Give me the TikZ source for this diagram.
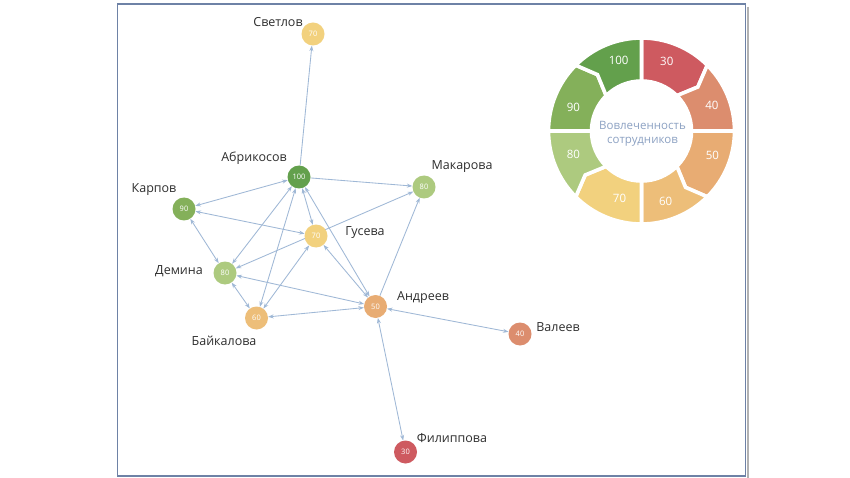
\documentclass[tikz,border=0pt]{standalone}
\usepackage{fontspec}
\setmainfont{Open Sans}
\usetikzlibrary{arrows.meta}
\definecolor{cA}{HTML}{63A04C}
\definecolor{cB}{HTML}{84B05A}
\definecolor{cC}{HTML}{ADCA7F}
\definecolor{cD}{HTML}{F2D17E}
\definecolor{cE}{HTML}{EDBE79}
\definecolor{cF}{HTML}{E8AC73}
\definecolor{cG}{HTML}{DC8D6E}
\definecolor{cH}{HTML}{CE5A60}
\definecolor{edgec}{HTML}{9FB8D6}
\definecolor{framec}{HTML}{6E82A6}
\definecolor{lblc}{HTML}{2E2E2E}
\definecolor{centerc}{HTML}{8DA2C3}
\pgfdeclarelayer{bg}
\pgfsetlayers{bg,main}
\newcommand\segFT[3]{% color, A, B : flat start, tip end
  \fill[#1,draw=white,line width=3.6pt,line join=miter]
    (#2:93) arc[start angle=#2,end angle=#3,radius=93]
    -- ({#3-7}:71.5) -- (#3:50) arc[start angle=#3,end angle=#2,radius=50] -- cycle;}
\newcommand\segNF[3]{% color, A, B : notch start, flat end
  \fill[#1,draw=white,line width=3.6pt,line join=miter]
    (#2:93) arc[start angle=#2,end angle=#3,radius=93]
    -- (#3:50) arc[start angle=#3,end angle=#2,radius=50] -- ({#2-7}:71.5) -- cycle;}
\begin{document}
\begin{tikzpicture}[x=1pt,y=-1pt,
  person/.style={circle,minimum size=23pt,inner sep=0pt,text=white,
    font=\fontsize{7.5}{8}\selectfont},
  lbl/.style={font=\fontsize{12.5}{14}\selectfont,text=lblc,inner sep=0pt},
  conn/.style={draw=edgec,line width=0.85pt},
  >={Stealth[length=5.5pt,width=4pt]},
  dnum/.style={font=\fontsize{11.5}{13}\selectfont,text=white,inner sep=0pt}]
\useasboundingbox (0,0) rectangle (850,478);
\begin{pgfonlayer}{bg}
\fill[white] (0,0) rectangle (850,478);
\end{pgfonlayer}
% frame
\draw[black!30,line width=2pt] (747.5,7) -- (747.5,478);
\draw[framec,line width=1.4pt] (117.5,4) rectangle (745.5,476);

% nodes
\node[person,fill=cD] (svet) at (313,34) {70};
\node[person,fill=cA] (abr) at (299,177) {100};
\node[person,fill=cC] (mak) at (424,187) {80};
\node[person,fill=cB] (karp) at (184,209) {90};
\node[person,fill=cD] (gus) at (316,236) {70};
\node[person,fill=cC] (dem) at (225,273) {80};
\node[person,fill=cF] (andr) at (375.5,306.5) {50};
\node[person,fill=cE] (baik) at (256.5,318) {60};
\node[person,fill=cG] (val) at (520,334) {40};
\node[person,fill=cH] (fil) at (405.5,452) {30};

% labels
\node[lbl] (lsvet) at (278,22) {Светлов};
\node[lbl] (labr) at (254,158) {Абрикосов};
\node[lbl] (lmak) at (462,167) {Макарова};
\node[lbl] (lkarp) at (154,190) {Карпов};
\node[lbl] (lgus) at (365,233) {Гусева};
\node[lbl] (ldem) at (179,271) {Демина};
\node[lbl] (landr) at (423,298) {Андреев};
\node[lbl] (lbaik) at (224,341) {Байкалова};
\node[lbl] (lval) at (558,327) {Валеев};
\node[lbl] (lfil) at (452,438) {Филиппова};

% connectors
\begin{pgfonlayer}{bg}
\draw[conn,->] (abr) -- (svet);
\draw[conn,->] (abr) -- (mak);
\draw[conn,<->] (abr) -- (karp);
\draw[conn,<->] (abr) -- (dem);
\draw[conn,<->] (abr) -- (baik);
\draw[conn,<->] (abr) -- (gus);
\draw[conn,<->] (abr) -- (andr);
\draw[conn,<->] (karp) -- (gus);
\draw[conn,<->] (karp) -- (dem);
\draw[conn,<->] (dem) -- (mak);
\draw[conn,<->] (gus) -- (baik);
\draw[conn,<->] (gus) -- (andr);
\draw[conn,<->] (dem) -- (andr);
\draw[conn,<->] (dem) -- (baik);
\draw[conn,<->] (baik) -- (andr);
\draw[conn,->] (andr) -- (mak);
\draw[conn,<->] (andr) -- (val);
\draw[conn,<->] (andr) -- (fil);
\end{pgfonlayer}

% donut
\begin{scope}[shift={(641.5,131)},y=1pt]
\segFT{cH}{90}{45}
\segNF{cG}{45}{0}
\segFT{cF}{0}{-45}
\segNF{cE}{-45}{-90}
\segFT{cD}{-90}{-135}
\segNF{cC}{-135}{-180}
\segFT{cB}{180}{135}
\segNF{cA}{135}{90}
\node[dnum] (d30) at (70:74) {30};
\node[dnum] (d40) at (20:75) {40};
\node[dnum] (d50) at (-19:75) {50};
\node[dnum] (d60) at (-71:74) {60};
\node[dnum] (d70) at (-108:71) {70};
\node[dnum] (d80) at (-161:72) {80};
\node[dnum] (d90) at (161:72) {90};
\node[dnum] (d100) at (108:74) {100};
\node[align=center,text=centerc,font=\fontsize{11.5}{14}\selectfont] (ctr) at (1,-3) {Вовлеченность\\сотрудников};
\end{scope}
\end{tikzpicture}
\end{document}
